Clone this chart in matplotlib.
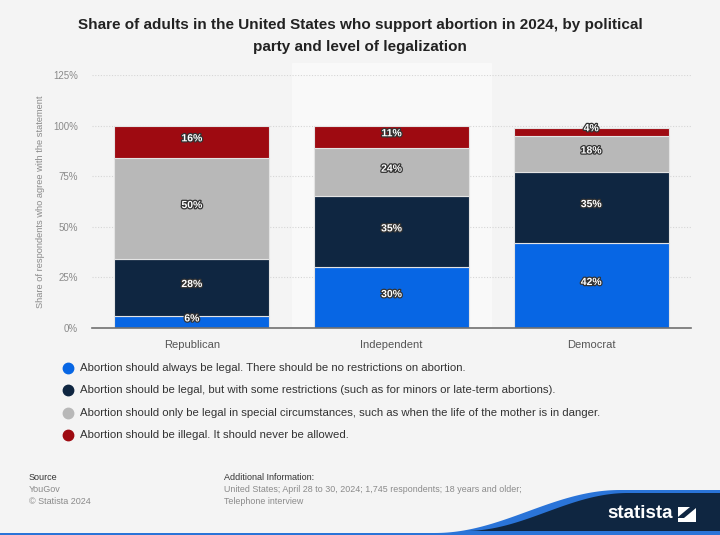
import numpy as np
import matplotlib.pyplot as plt
from matplotlib import patheffects as pe
from matplotlib.patches import Polygon, Rectangle

plt.rcParams['font.family'] = ['Liberation Sans', 'DejaVu Sans']

# data
parties = ['Republican', 'Independent', 'Democrat']
always_legal = [6, 30, 42]
some_restrictions = [28, 35, 35]
special_cases = [50, 24, 18]
illegal = [16, 11, 4]

series_labels = [
    'Abortion should always be legal. There should be no restrictions on abortion.',
    'Abortion should be legal, but with some restrictions (such as for minors or late-term abortions).',
    'Abortion should only be legal in special circumstances, such as when the life of the mother is in danger.',
    'Abortion should be illegal. It should never be allowed.',
]
colors = ['#0766e4', '#0f2641', '#b8b8b8', '#9e0a11']
yticks = [0, 25, 50, 75, 100, 125]

W, H = 720, 535
fig = plt.figure(figsize=(7.2, 5.35), dpi=100)
fig.patch.set_facecolor('#f4f4f4')

ax = fig.add_axes([92 / W, 1 - 328 / H, 599 / W, 253 / H])
ax.set_facecolor('#f4f4f4')
ax.set_xlim(-0.5, 2.5)
ax.set_ylim(0, 125)

# lighter band behind the middle column
ax.add_patch(Rectangle((0.5, 0), 1, 131, color='#f9f9f9', zorder=0, clip_on=False))

for y in yticks[1:]:
    ax.axhline(y, color='#d6d6d6', lw=0.8, ls=(0, (1, 1.5)), zorder=1)

x = np.arange(len(parties))
bottom = np.zeros(len(parties))
for vals, col in zip([always_legal, some_restrictions, special_cases, illegal], colors):
    vals = np.array(vals)
    ax.bar(x, vals, width=0.775, bottom=bottom, color=col, edgecolor='#e4e4e4',
           linewidth=0.8, zorder=2)
    for xi, b, v in zip(x, bottom, vals):
        ax.annotate(f'{v}%', (xi, b + v / 2), xytext=(0, 2.5), textcoords='offset points',
                    ha='center', va='center', color='white',
                    fontsize=7.5, fontweight='bold', zorder=3,
                    path_effects=[pe.withStroke(linewidth=1.8, foreground='#333333')])
    bottom += vals

for s in ['top', 'right', 'left']:
    ax.spines[s].set_visible(False)
ax.spines['bottom'].set_color('#707070')
ax.spines['bottom'].set_linewidth(1.2)
ax.set_xticks(x)
ax.set_xticklabels(parties, fontsize=8, color='#555555')
ax.set_yticks(yticks)
ax.set_yticklabels([f'{t}%' for t in yticks], fontsize=7, color='#8a8a8a')
ax.tick_params(length=0, pad=10)
ax.tick_params(axis='x', pad=9)
ax.set_ylabel('Share of respondents who agree with the statement', fontsize=6.7,
              color='#8a8a8a', labelpad=6)

fig.text(0.5, 1 - 25 / H, 'Share of adults in the United States who support abortion in 2024, by political',
         ha='center', va='center', fontsize=11, fontweight='bold', color='#222222')
fig.text(0.5, 1 - 47 / H, 'party and level of legalization',
         ha='center', va='center', fontsize=11, fontweight='bold', color='#222222')

# legend
for i, (lab, col) in enumerate(zip(series_labels, colors)):
    yy = 1 - (368 + i * 22.3) / H
    fig.lines.append(plt.Line2D([68 / W], [yy], marker='o', markersize=7.5, color=col,
                                transform=fig.transFigure))
    fig.text(80 / W, yy, lab, ha='left', va='center', fontsize=8.2, color='#333333')

# footer
fig.text(29 / W, 1 - 477 / H, 'Source', fontsize=6.5, color='#333333', va='center')
fig.text(29 / W, 1 - 489 / H, 'YouGov', fontsize=6.5, color='#8a8a8a', va='center')
fig.text(29 / W, 1 - 501 / H, '© Statista 2024', fontsize=6.5, color='#8a8a8a', va='center')
fig.text(224 / W, 1 - 477 / H, 'Additional Information:', fontsize=6.5, color='#333333', va='center')
fig.text(224 / W, 1 - 489 / H, 'United States; April 28 to 30, 2024; 1,745 respondents; 18 years and older;',
         fontsize=6.4, color='#8a8a8a', va='center')
fig.text(224 / W, 1 - 501 / H, 'Telephone interview', fontsize=6.4, color='#8a8a8a', va='center')

# statista logo swoosh
t = np.linspace(0, 1, 60)
s = 0.5 - 0.5 * np.cos(np.pi * t)
cx = 435 + (620 - 435) * t
cy = 533 - 43 * s
blue = list(zip(cx / W, 1 - cy / H)) + [(1, 1 - 490 / H), (1, 0)]
fig.patches.append(Polygon(blue, closed=True, transform=fig.transFigure,
                           facecolor='#2a74d8', edgecolor='none'))
cx2 = 465 + (628 - 465) * t
cy2 = 531 - 38 * s
navy = list(zip(cx2 / W, 1 - cy2 / H)) + [(1, 1 - 493 / H), (1, 1 - 531 / H)]
fig.patches.append(Polygon(navy, closed=True, transform=fig.transFigure,
                           facecolor='#0f2641', edgecolor='none'))
fig.patches.append(Rectangle((0, 0), 1, 2.5 / H, transform=fig.transFigure,
                             facecolor='#2a74d8', edgecolor='none'))
fig.text(640 / W, 1 - 514 / H, 'statista', ha='center', va='center', fontsize=13.5,
         fontweight='bold', color='white')
fig.patches.append(Rectangle((678 / W, 1 - 522 / H), 18 / W, 15 / H, transform=fig.transFigure,
                             facecolor='white', edgecolor='none'))
slash = [(678, 517), (690, 507), (696, 507), (696, 508), (684, 518), (678, 518)]
fig.patches.append(Polygon([(px / W, 1 - py / H) for px, py in slash], closed=True,
                           transform=fig.transFigure, facecolor='#0f2641', edgecolor='none'))

fig.savefig('out.png', dpi=100, facecolor=fig.get_facecolor())
